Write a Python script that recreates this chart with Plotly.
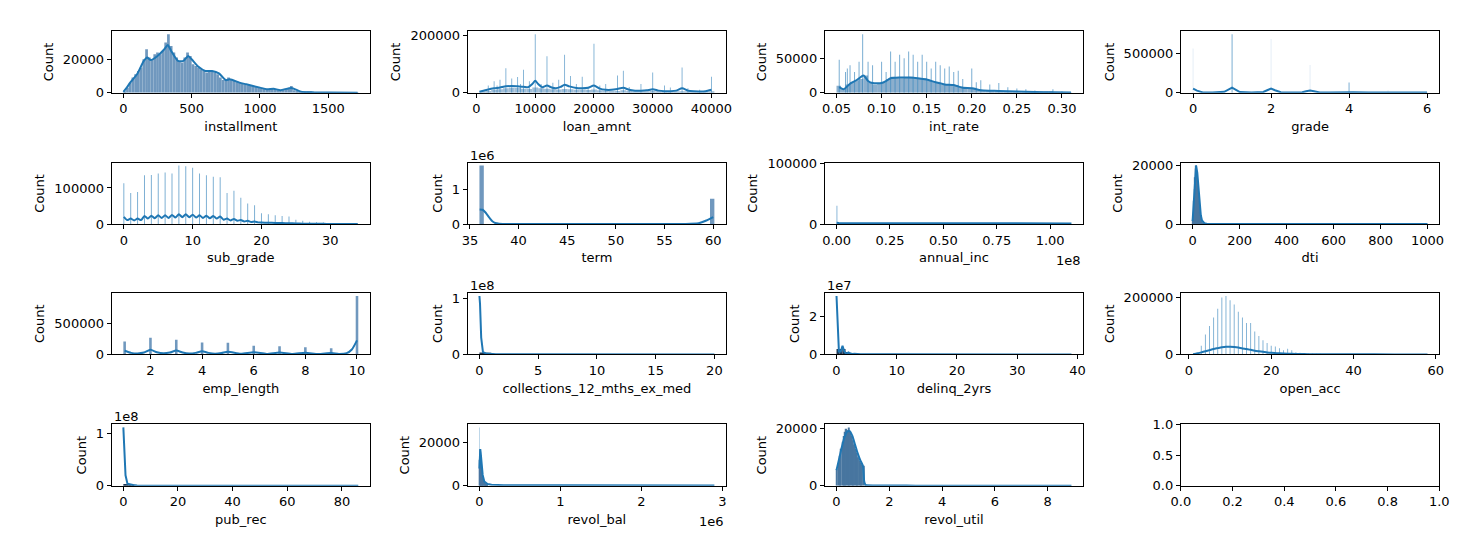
import plotly.graph_objects as go
from plotly.subplots import make_subplots

# ---- values (bar heights are counts as drawn) ----
installment_bin_start, installment_bin_width = 0, 20
installment_counts = [500, 3000, 6000, 9000, 11000, 13000, 15000, 20000, 26000, 21000,
                      20000, 23000, 24000, 23000, 25000, 30000, 35000, 28000, 24000, 21000,
                      19000, 18000, 21000, 24000, 22000, 17000, 16000, 15000, 14000, 13000,
                      12000, 12500, 13000, 12000, 11000, 9000, 7500, 8000, 9000, 8000,
                      7000, 6500, 6000, 5500, 5000, 4500, 4000, 3800, 3400, 3000,
                      2600, 2300, 2000, 2200, 2600, 2000, 1700, 1500, 1700, 2000,
                      2800, 4000, 1500, 1000, 700, 500, 350, 250, 200, 150,
                      120, 100, 80, 60, 50, 40, 30, 30, 20, 20,
                      15, 10, 10, 10, 5, 5]
installment_kde_x = [0, 25, 50, 100, 150, 175, 200, 250, 300, 325, 350, 400, 440, 475, 500, 550,
                     600, 650, 700, 750, 780, 850, 900, 1000, 1050, 1100, 1150, 1230, 1300, 1400,
                     1500, 1715]
installment_kde_y = [500, 3000, 6000, 11000, 19000, 21000, 19500, 22000, 26000, 28500, 25000, 19000,
                     19000, 22000, 20000, 15500, 13000, 13000, 11500, 7500, 8000, 6000, 5000, 3000,
                     2000, 2300, 1500, 2800, 600, 150, 50, 0]

loan_amnt_bin_start, loan_amnt_bin_width = 500, 1000
loan_amnt_counts = [3000, 6000, 9000, 12000, 15000, 17000, 16000, 14000, 13000, 18000,
                    15000, 14000, 12000, 11000, 13000, 12000, 10000, 10000, 9000, 11000,
                    8000, 7000, 6000, 6000, 8000, 6000, 5000, 5000, 4000, 6000,
                    4000, 3500, 3500, 3500, 5000, 3000, 2500, 2500, 2500, 3000]
loan_amnt_spike_x = [2000, 3000, 3500, 4000, 5000, 6000, 7000, 7500, 8000, 9000,
                     10000, 11000, 12000, 13000, 14000, 15000, 16000, 17000, 18000, 19000,
                     20000, 21000, 22000, 24000, 25000, 26000, 28000, 30000, 32000, 33000,
                     35000, 36000, 38000, 40000]
loan_amnt_spike_h = [25000, 40000, 25000, 45000, 86000, 50000, 55000, 30000, 80000, 40000,
                     205000, 30000, 128000, 35000, 45000, 133000, 58000, 30000, 56000, 20000,
                     172000, 25000, 30000, 60000, 77000, 20000, 30000, 71000, 25000, 18000,
                     88000, 15000, 10000, 56000]
loan_amnt_kde_x = [500, 1000, 2000, 3000, 4000, 5000, 6000, 7000, 8000, 8800, 9500, 10000, 10500,
                   11200, 12000, 12800, 13500, 14300, 15000, 15800, 17000, 18000, 19000, 20000,
                   21000, 22000, 23000, 24000, 25000, 26000, 27000, 28000, 29000, 30000, 31000,
                   32000, 33000, 34000, 35000, 36000, 37000, 38000, 39000, 40000]
loan_amnt_kde_y = [3000, 6000, 11000, 15000, 18000, 22000, 23000, 22000, 21000, 19000, 30000, 42000,
                   30000, 19000, 25000, 18000, 15000, 20000, 28000, 22000, 16000, 15000, 17000,
                   25000, 14000, 10000, 10000, 13000, 17000, 10000, 7000, 6500, 8000, 12000, 7000,
                   5000, 5000, 7000, 15000, 7000, 4500, 4000, 5000, 10000]

int_rate_bin_start, int_rate_bin_width = 0.05, 0.005
int_rate_counts = [10000, 5000, 12000, 15000, 18000, 20000, 25000, 15000, 12000, 13000,
                   15000, 20000, 23000, 22000, 21000, 22000, 23000, 21000, 20000, 21000,
                   18000, 16000, 14000, 12000, 12000, 11000, 11000, 9000, 7000, 6000,
                   7000, 4000, 3500, 3000, 2800, 2600, 2500, 2200, 2000, 1800,
                   1500, 1300, 1100, 900, 700, 600, 500, 600, 400, 300,
                   250, 200]
int_rate_spike_x = [0.053, 0.06, 0.062, 0.065, 0.07, 0.075, 0.079, 0.085, 0.09, 0.1,
                    0.105, 0.11, 0.115, 0.12, 0.125, 0.13, 0.135, 0.14, 0.145, 0.15,
                    0.155, 0.16, 0.165, 0.17, 0.175, 0.18, 0.185, 0.19, 0.2, 0.205,
                    0.21, 0.22, 0.23, 0.24, 0.25, 0.26, 0.27, 0.29, 0.3, 0.31]
int_rate_spike_h = [48000, 30000, 35000, 40000, 30000, 45000, 85000, 45000, 40000, 45000,
                    30000, 60000, 45000, 55000, 50000, 60000, 55000, 45000, 55000, 45000,
                    35000, 45000, 40000, 35000, 38000, 30000, 32000, 20000, 35000, 15000,
                    18000, 12000, 14000, 8000, 6000, 5000, 3000, 5000, 2000, 1000]
int_rate_kde_x = [0.053, 0.058, 0.065, 0.072, 0.08, 0.085, 0.09, 0.1, 0.105, 0.11, 0.12, 0.13,
                  0.14, 0.15, 0.16, 0.17, 0.18, 0.19, 0.2, 0.21, 0.22, 0.23, 0.25, 0.27, 0.29, 0.31]
int_rate_kde_y = [8000, 5000, 13000, 18000, 25000, 17000, 14000, 14000, 17000, 21000, 22000, 22000,
                  21000, 19000, 15000, 12000, 11000, 7000, 6500, 3500, 2800, 2500, 1500, 800, 600, 200]

grade_x = [0, 1, 2, 3, 4, 5, 6]
grade_counts = [560000, 740000, 680000, 350000, 130000, 30000, 8000]
grade_kde_x = [0, 0.1, 0.25, 0.5, 0.8, 0.9, 1, 1.1, 1.2, 1.5, 1.8, 1.9, 2, 2.1, 2.25, 2.5, 2.8,
               2.9, 3, 3.1, 3.25, 3.5, 3.9, 4, 4.1, 4.5, 5, 5.5, 6]
grade_kde_y = [50000, 25000, 3000, 1000, 10000, 35000, 62000, 35000, 8000, 1000, 8000, 30000,
               52000, 30000, 5000, 1000, 5000, 18000, 28000, 18000, 3000, 500, 5000, 9000, 5000,
               300, 2000, 100, 300]

sub_grade_x = list(range(35))
sub_grade_counts = [113000, 86000, 89000, 135000, 136000, 140000, 143000, 140000, 162000, 160000,
                    156000, 140000, 135000, 131000, 130000, 86000, 92000, 73000, 57000, 52000,
                    30000, 27000, 24000, 22000, 21000, 12000, 9000, 6000, 5000, 4000,
                    2500, 1500, 1000, 500, 300]
sub_grade_kde_x = [0, 0.5, 1, 1.5, 2, 2.5, 3, 3.5, 4, 4.5, 5, 5.5, 6, 6.5, 7, 7.5, 8, 8.5, 9, 9.5,
                   10, 10.5, 11, 11.5, 12, 12.5, 13, 13.5, 14, 14.5, 15, 15.5, 16, 16.5, 17, 17.5,
                   18, 18.5, 19, 19.5, 20, 21, 22, 23, 24, 25, 26, 27, 28, 29, 30, 31, 32, 33, 34]
sub_grade_kde_y = [20000, 11000, 15000, 10000, 15000, 11000, 22000, 15000, 23000, 16000,
                   24000, 17000, 24000, 17000, 25000, 18000, 27000, 19000, 27000, 19000,
                   26000, 18000, 24000, 17000, 23000, 16000, 22000, 15000, 21000, 12000,
                   15000, 10000, 14000, 9000, 11000, 7000, 9000, 5500, 7000, 4500,
                   4000, 3500, 3000, 2500, 2200, 1500, 1000, 700, 500, 400, 300, 200, 100, 50, 20]

term_x = [36.2, 59.9]
term_counts = [1680000, 730000]
term_kde_x = [36, 36.3, 36.6, 37, 37.3, 37.6, 38, 40, 50, 57, 58.5, 59.3, 60]
term_kde_y = [420000, 410000, 330000, 180000, 80000, 30000, 10000, 0, 0, 0, 20000, 100000, 200000]

annual_inc_x = [150000]
annual_inc_counts = [30000]
annual_inc_kde_x = [0, 1e6, 1e7, 5e7, 1.1e8]
annual_inc_kde_y = [2000, 1500, 1200, 1000, 1000]

dti_bin_start, dti_bin_width = 0, 2
dti_counts = [1500, 4000, 8000, 12000, 16000, 19000, 20000, 20000, 19500, 18000,
              16000, 13000, 10500, 8000, 6000, 4000, 2800, 1800, 1000, 600,
              400, 300, 200, 150, 100]
dti_kde_x = [0, 5, 10, 15, 20, 25, 30, 35, 40, 50, 60, 100, 300, 1000]
dti_kde_y = [1000, 8000, 17000, 20000, 17500, 12000, 6500, 3000, 1200, 300, 100, 50, 20, 10]

emp_length_x = [1, 2, 3, 4, 5, 6, 7, 8, 9, 10]
emp_length_counts = [210000, 274000, 242000, 195000, 190000, 142000, 132000, 116000, 100000, 958000]
emp_length_kde_x = [1, 1.25, 1.5, 1.75, 2, 2.25, 2.5, 2.75, 3, 3.25, 3.5, 3.75, 4, 4.25, 4.5, 4.75,
                    5, 5.5, 6, 6.5, 7, 7.5, 8, 8.5, 9, 9.3, 9.6, 9.8, 10]
emp_length_kde_y = [60000, 25000, 15000, 30000, 75000, 35000, 18000, 30000, 65000, 30000, 15000,
                    25000, 52000, 25000, 12000, 22000, 45000, 10000, 35000, 8000, 30000, 7000,
                    27000, 6000, 22000, 8000, 20000, 80000, 230000]

collections_bin_start, collections_bin_width = 0, 0.5
collections_counts = [3500000, 3000000]
collections_kde_x = [0, 0.05, 0.15, 0.3, 0.6, 1.0, 1.4, 2, 5, 10, 20]
collections_kde_y = [1.04e8, 9e7, 3e7, 4e6, 1.5e6, 1.5e6, 3e5, 1e5, 3e4, 1e4, 5e3]

delinq_bin_start, delinq_bin_width = 0, 0.5
delinq_counts = [2800000, 2800000, 2800000, 1200000, 400000]
delinq_kde_x = [0, 0.1, 0.25, 0.4, 0.7, 0.9, 1.0, 1.1, 1.3, 1.6, 1.9, 2.0, 2.2, 2.6, 3, 4, 10, 20, 39]
delinq_kde_y = [3.07e7, 2.2e7, 6e6, 1.5e6, 1.5e6, 3.5e6, 4.5e6, 3.5e6, 1.5e6, 4e5, 8e5, 1e6, 6e5,
                2e5, 3e5, 1e5, 3e4, 1e4, 5e3]

open_acc_x = list(range(1, 41))
open_acc_counts = [1000, 8000, 30000, 70000, 100000, 130000, 160000, 200000, 205000, 190000,
                   175000, 150000, 130000, 110000, 110000, 80000, 65000, 50000, 40000, 30000,
                   28000, 22000, 15000, 20000, 15000, 8000, 6000, 5000, 4000, 3000,
                   2500, 2000, 1500, 1200, 1000, 800, 600, 500, 400, 300]
open_acc_kde_x = [1, 2, 3, 4, 5, 6, 7, 8, 9, 10, 11, 12, 13, 14, 15, 16, 17, 18, 19, 20, 22, 24,
                  26, 28, 30, 35, 40, 50, 58]
open_acc_kde_y = [500, 3000, 7000, 11000, 15000, 19000, 22000, 25000, 27000, 27000, 26000, 24000,
                  21000, 19000, 16000, 13000, 11000, 9000, 7000, 5500, 4000, 2500, 1800, 1200, 800,
                  400, 200, 100, 50]

pub_rec_bin_start, pub_rec_bin_width = 0, 1
pub_rec_counts = [3200000, 3200000, 3000000, 2500000]
pub_rec_kde_x = [0, 0.3, 0.8, 1.5, 2.5, 3.5, 5, 10, 40, 86]
pub_rec_kde_y = [1.11e8, 8e7, 2e7, 4e6, 2.5e6, 1.5e6, 5e5, 2e5, 5e4, 1e4]

revol_bal_bin_start, revol_bal_bin_width = 0, 5000
revol_bal_counts = [12000, 17000, 16500, 14000, 11000, 8500, 6500, 5000, 3800, 3000,
                    2400, 1900, 1500, 1200, 1000, 800, 700, 600, 500, 400]
revol_bal_spike_x = [4000]
revol_bal_spike_h = [27000]
revol_bal_kde_x = [0, 5000, 10000, 15000, 25000, 40000, 60000, 80000, 100000, 150000, 300000,
                   1e6, 2.9e6]
revol_bal_kde_y = [8000, 15000, 17000, 15500, 10000, 5000, 2000, 1200, 800, 500, 300, 200, 100]

revol_util_bin_start, revol_util_bin_width = 0, 0.05
revol_util_counts = [5800, 8000, 10500, 13000, 15500, 17500, 19000, 20000, 19500, 20500,
                     19000, 17500, 16000, 14500, 13000, 11500, 10000, 9000, 8000, 7500, 7000]
revol_util_kde_x = [0, 0.1, 0.2, 0.3, 0.4, 0.5, 0.6, 0.7, 0.8, 0.9, 1.0, 1.05, 1.1, 1.5, 3, 8.9]
revol_util_kde_y = [5500, 9500, 13500, 17000, 19000, 19200, 17500, 14500, 11500, 9000, 7000, 1500,
                    300, 100, 50, 20]

# ---- style ----
W, H = 1470, 558
COL_LEFT = [103, 464, 826, 1187]
ROW_TOP = [25, 160, 294, 429]
PW, PH = 262, 63
BLUE = '#1f77b4'
FILL = 'rgb(112,152,190)'
SPIKE = 'rgba(31,119,180,0.6)'
FAINT = 'rgba(31,119,180,0.12)'
DENSE = 'rgb(72,118,160)'
DARK = 'rgb(30,55,85)'
FONT = dict(family='DejaVu Sans', size=13, color='black')
grade_colors = [FAINT, SPIKE, FAINT, FAINT, SPIKE, FAINT, FAINT]


def centers(start, width, counts):
    return [start + width * (i + 0.5) for i in range(len(counts))]


panels = [
    dict(label='installment',
         bars=[(centers(installment_bin_start, installment_bin_width, installment_counts),
                installment_counts, installment_bin_width, FILL)],
         kde=(installment_kde_x, installment_kde_y), smooth=True,
         xticks=[0, 500, 1000, 1500], yticks=[0, 20000]),
    dict(label='loan_amnt',
         bars=[(centers(loan_amnt_bin_start, loan_amnt_bin_width, loan_amnt_counts),
                loan_amnt_counts, loan_amnt_bin_width, 'rgb(160,190,215)'),
               (loan_amnt_spike_x, loan_amnt_spike_h, 150, SPIKE)],
         kde=(loan_amnt_kde_x, loan_amnt_kde_y), smooth=True,
         xticks=[0, 10000, 20000, 30000, 40000], yticks=[0, 200000]),
    dict(label='int_rate',
         bars=[(centers(int_rate_bin_start, int_rate_bin_width, int_rate_counts),
                int_rate_counts, int_rate_bin_width, 'rgb(140,175,205)'),
               (int_rate_spike_x, int_rate_spike_h, 0.0011, SPIKE)],
         kde=(int_rate_kde_x, int_rate_kde_y), smooth=True,
         xticks=[0.05, 0.10, 0.15, 0.20, 0.25, 0.30], xformat='.2f', yticks=[0, 50000]),
    dict(label='grade',
         bars=[(grade_x, grade_counts, 0.025, grade_colors)],
         kde=(grade_kde_x, grade_kde_y), smooth=False,
         xticks=[0, 2, 4, 6], yticks=[0, 500000]),
    dict(label='sub_grade',
         bars=[(sub_grade_x, sub_grade_counts, 0.14, SPIKE)],
         kde=(sub_grade_kde_x, sub_grade_kde_y), smooth=True,
         xticks=[0, 10, 20, 30], yticks=[0, 100000]),
    dict(label='term',
         bars=[(term_x, term_counts, 0.45, FILL)],
         kde=(term_kde_x, term_kde_y), smooth=True,
         xticks=[35, 40, 45, 50, 55, 60], yticks=[0, 1e6], ytext=['0', '1'], yoffset='1e6'),
    dict(label='annual_inc',
         bars=[(annual_inc_x, annual_inc_counts, 400000, SPIKE)],
         kde=(annual_inc_kde_x, annual_inc_kde_y), smooth=False,
         xticks=[0, 2.5e7, 5e7, 7.5e7, 1e8], xtext=['0.00', '0.25', '0.50', '0.75', '1.00'],
         xoffset='1e8', yticks=[0, 100000], ytop=101000),
    dict(label='dti',
         bars=[(centers(dti_bin_start, dti_bin_width, dti_counts), dti_counts, dti_bin_width, DENSE)],
         kde=(dti_kde_x, dti_kde_y), smooth=False,
         xticks=[0, 200, 400, 600, 800, 1000], yticks=[0, 20000]),
    dict(label='emp_length',
         bars=[(emp_length_x, emp_length_counts, 0.1, FILL)],
         kde=(emp_length_kde_x, emp_length_kde_y), smooth=True,
         xticks=[2, 4, 6, 8, 10], yticks=[0, 500000]),
    dict(label='collections_12_mths_ex_med',
         bars=[(centers(collections_bin_start, collections_bin_width, collections_counts),
                collections_counts, collections_bin_width, DARK)],
         kde=(collections_kde_x, collections_kde_y), smooth=False,
         xticks=[0, 5, 10, 15, 20], yticks=[0, 1e8], ytext=['0', '1'], yoffset='1e8'),
    dict(label='delinq_2yrs',
         bars=[(centers(delinq_bin_start, delinq_bin_width, delinq_counts),
                delinq_counts, delinq_bin_width, DARK)],
         kde=(delinq_kde_x, delinq_kde_y), smooth=False,
         xticks=[0, 10, 20, 30, 40], yticks=[0, 2e7], ytext=['0', '2'], yoffset='1e7'),
    dict(label='open_acc',
         bars=[(open_acc_x, open_acc_counts, 0.22, SPIKE)],
         kde=(open_acc_kde_x, open_acc_kde_y), smooth=True,
         xticks=[0, 20, 40, 60], yticks=[0, 200000]),
    dict(label='pub_rec',
         bars=[(centers(pub_rec_bin_start, pub_rec_bin_width, pub_rec_counts),
                pub_rec_counts, pub_rec_bin_width, DARK)],
         kde=(pub_rec_kde_x, pub_rec_kde_y), smooth=False,
         xticks=[0, 20, 40, 60, 80], yticks=[0, 1e8], ytext=['0', '1'], yoffset='1e8'),
    dict(label='revol_bal',
         bars=[(revol_bal_spike_x, revol_bal_spike_h, 6000, SPIKE),
               (centers(revol_bal_bin_start, revol_bal_bin_width, revol_bal_counts),
                revol_bal_counts, revol_bal_bin_width, DENSE)],
         kde=(revol_bal_kde_x, revol_bal_kde_y), smooth=False,
         xticks=[0, 1e6, 2e6, 3e6], xtext=['0', '1', '2', '3'], xoffset='1e6',
         yticks=[0, 20000]),
    dict(label='revol_util',
         bars=[(centers(revol_util_bin_start, revol_util_bin_width, revol_util_counts),
                revol_util_counts, revol_util_bin_width, DENSE)],
         kde=(revol_util_kde_x, revol_util_kde_y), smooth=True,
         xticks=[0, 2, 4, 6, 8], yticks=[0, 20000]),
]

fig = make_subplots(rows=4, cols=4)
annotations = []

for k in range(16):
    r, c = k // 4, k % 4
    sfx = '' if k == 0 else str(k + 1)
    left, top = COL_LEFT[c], ROW_TOP[r]
    xdom = [left / W, (left + PW) / W]
    ydom = [1 - (top + PH) / H, 1 - top / H]
    axis = dict(showline=True, linecolor='black', linewidth=1, mirror=True,
                ticks='outside', ticklen=4, tickwidth=1, tickcolor='black',
                showgrid=False, zeroline=False, tickfont=FONT)

    if k >= len(panels):
        # empty axes, like the unused matplotlib subplot
        fig.add_trace(go.Scatter(x=[None], y=[None], mode='lines', showlegend=False,
                                 hoverinfo='skip'), row=r + 1, col=c + 1)
        fig.layout['xaxis' + sfx].update(domain=xdom, range=[0, 1], tickmode='array',
                                         tickvals=[0, 0.2, 0.4, 0.6, 0.8, 1.0],
                                         tickformat='.1f', **axis)
        fig.layout['yaxis' + sfx].update(domain=ydom, range=[0, 1], tickmode='array',
                                         tickvals=[0, 0.5, 1.0], tickformat='.1f', **axis)
        continue

    p = panels[k]
    xs_lo, xs_hi, ys = [], [], []
    for bx, bh, bw, color in p['bars']:
        fig.add_trace(go.Bar(x=bx, y=bh, width=bw, marker=dict(color=color, line=dict(width=0)),
                             showlegend=False, hoverinfo='skip'), row=r + 1, col=c + 1)
        xs_lo += [v - bw / 2 for v in bx]
        xs_hi += [v + bw / 2 for v in bx]
        ys += bh
    kx, ky = p['kde']
    line = dict(color=BLUE, width=2)
    if p['smooth']:
        line.update(shape='spline', smoothing=0.6)
    fig.add_trace(go.Scatter(x=kx, y=ky, mode='lines', line=line, showlegend=False,
                             hoverinfo='skip'), row=r + 1, col=c + 1)
    xs_lo += kx
    xs_hi += kx
    ys += ky

    lo, hi = min(xs_lo), max(xs_hi)
    span = hi - lo
    ytop = p.get('ytop', 1.05 * max(ys))

    xa = dict(domain=xdom, range=[lo - 0.05 * span, hi + 0.05 * span], tickmode='array',
              tickvals=p['xticks'], title=dict(text=p['label'], font=FONT, standoff=6), **axis)
    if 'xtext' in p:
        xa['ticktext'] = p['xtext']
    else:
        xa['tickformat'] = p.get('xformat', 'd')
    ya = dict(domain=ydom, range=[0, ytop], tickmode='array', tickvals=p['yticks'],
              title=dict(text='Count', font=FONT, standoff=6), **axis)
    if 'ytext' in p:
        ya['ticktext'] = p['ytext']
    else:
        ya['tickformat'] = 'd'
    fig.layout['xaxis' + sfx].update(**xa)
    fig.layout['yaxis' + sfx].update(**ya)

    if 'yoffset' in p:
        annotations.append(dict(text=p['yoffset'], xref='paper', yref='paper', x=xdom[0],
                                y=ydom[1], xanchor='left', yanchor='bottom', showarrow=False,
                                font=FONT, yshift=-2))
    if 'xoffset' in p:
        annotations.append(dict(text=p['xoffset'], xref='paper', yref='paper', x=xdom[1],
                                y=ydom[0], xanchor='right', yanchor='middle', showarrow=False,
                                font=FONT, yshift=-36))

fig.update_layout(width=W, height=H, margin=dict(l=0, r=0, t=0, b=0), barmode='overlay',
                  plot_bgcolor='white', paper_bgcolor='white', font=FONT,
                  annotations=annotations)
fig.write_html('out.html', config={'displayModeBar': False},
               post_script="document.body.style.margin = '0';")
